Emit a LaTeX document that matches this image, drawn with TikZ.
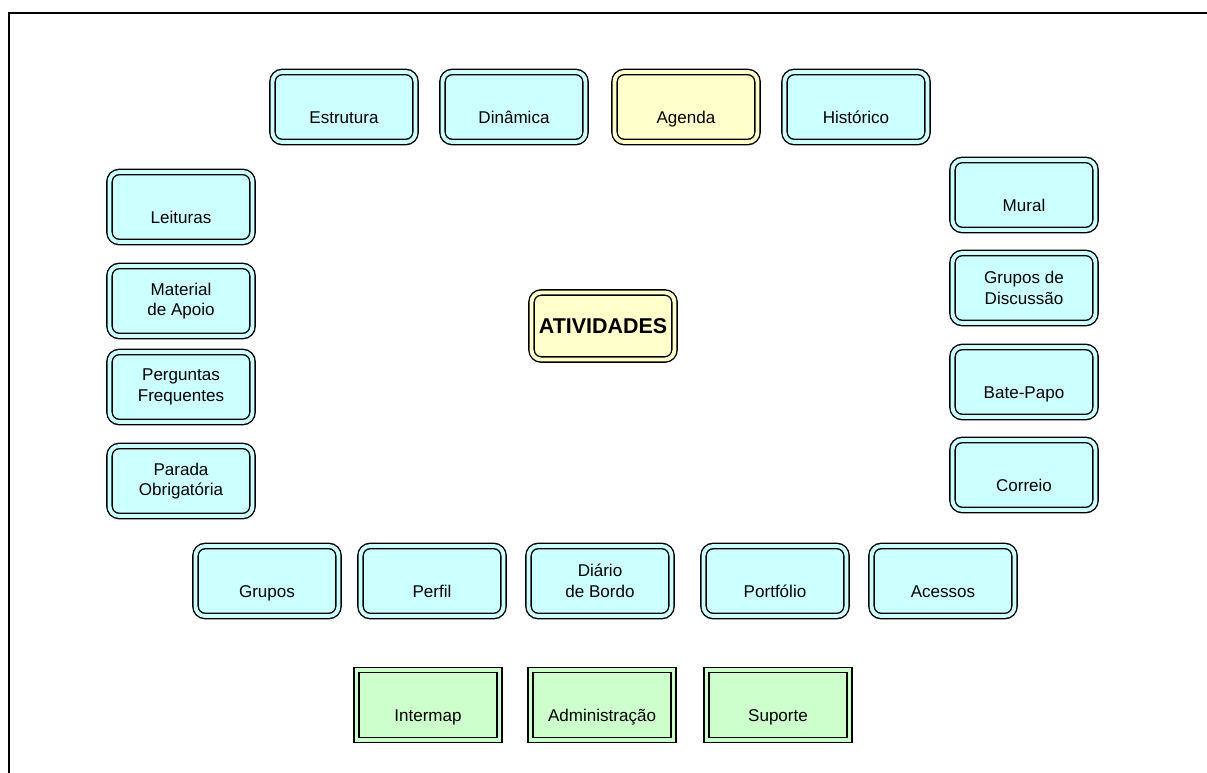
\documentclass[tikz,border=0pt]{standalone}
\usepackage{fontspec}
\setmainfont{Liberation Sans}
\definecolor{tilecyan}{HTML}{CCFFFF}
\definecolor{tileyellow}{HTML}{FFFFCC}
\definecolor{tilegreen}{HTML}{CCFFCC}
\newcommand\lowtext[1]{\smash{\raisebox{-9.5pt}{#1}}}

\begin{document}
\begin{tikzpicture}[x=0.02cm, y=-0.02cm, font=\fontsize{9.7}{11.8}\selectfont,
    tile/.style={draw=black, line width=0.8pt, double=#1, double distance=2.2pt,
      fill=#1, rounded corners=5.5pt, minimum width=2.86cm, minimum height=1.40cm,
      inner sep=0pt, align=center},
    tile/.default=tilecyan,
    sharptile/.style={tile=tilegreen, sharp corners}]
  \useasboundingbox (0,0) rectangle (1207,773);
  \draw[line width=1.1pt] (9,773) -- (9,13) -- (1207,13);
  % top row
  \foreach \x/\id/\col/\txt in {
      344/estrutura/tilecyan/Estrutura,
      514/dinamica/tilecyan/Dinâmica,
      686/agenda/tileyellow/Agenda,
      856/historico/tilecyan/Histórico}
    {\node[tile=\col] (\id) at (\x,107) {\lowtext{\txt}};}
  % left column
  \foreach \y/\id/\txt in {
      207/leituras/\lowtext{Leituras},
      301/material/Material\\de Apoio,
      387/perguntas/Perguntas\\Frequentes,
      481/parada/Parada\\Obrigatória}
    {\node[tile] (\id) at (181,\y) {\txt};}
  % right column
  \foreach \y/\id/\txt in {
      195/mural/\lowtext{Mural},
      288/discussao/Grupos de\\Discussão,
      382/batepapo/\lowtext{Bate-Papo},
      475/correio/\lowtext{Correio}}
    {\node[tile] (\id) at (1024,\y) {\txt};}
  % bottom row
  \foreach \x/\id/\txt in {
      267/grupos/\lowtext{Grupos},
      432/perfil/\lowtext{Perfil},
      600/diario/Diário\\de Bordo,
      775/portfolio/\lowtext{Portfólio},
      943/acessos/\lowtext{Acessos}}
    {\node[tile] (\id) at (\x,581) {\txt};}
  % tools
  \foreach \x/\id/\txt in {
      428/intermap/Intermap,
      602/administracao/Administração,
      778/suporte/Suporte}
    {\node[sharptile] (\id) at (\x,705) {\lowtext{\txt}};}
  \node[tile=tileyellow, minimum height=1.34cm, font=\fontsize{12.2}{14}\selectfont\bfseries]
    (atividades) at (603,326) {ATIVIDADES};
\end{tikzpicture}
\end{document}
